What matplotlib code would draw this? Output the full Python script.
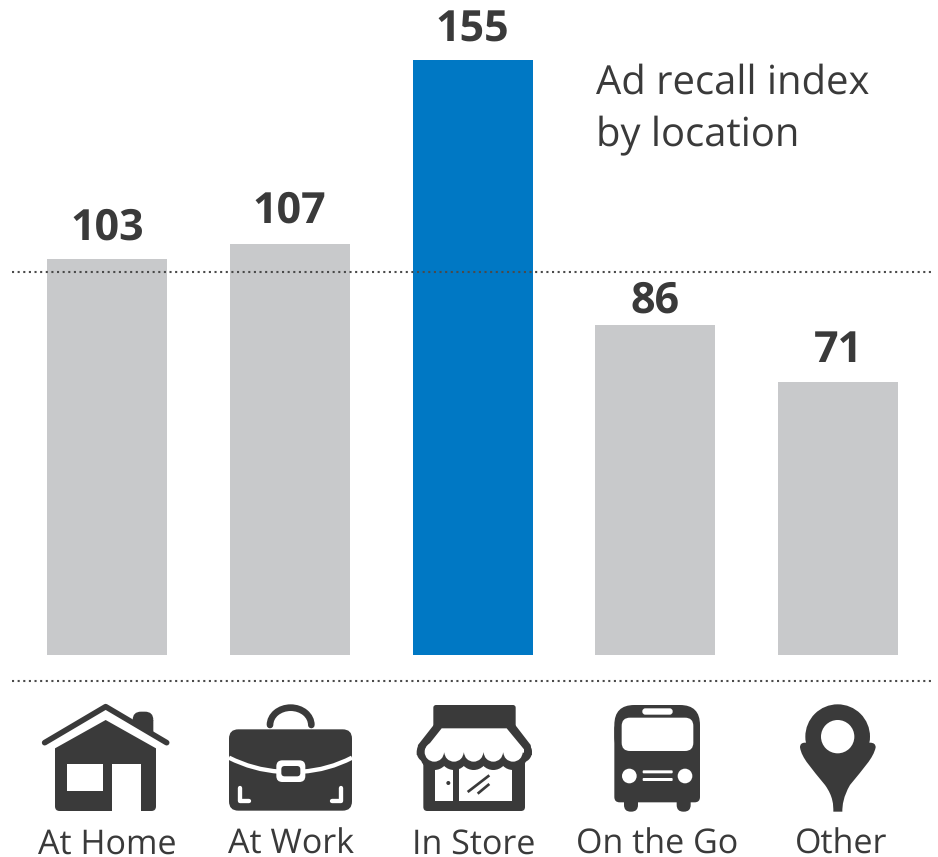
import numpy as np
import matplotlib
matplotlib.use("Agg")
import matplotlib.pyplot as plt
from matplotlib.patches import Circle, FancyBboxPatch, PathPatch, Polygon, Arc
from matplotlib.path import Path
from matplotlib.transforms import ScaledTranslation

categories = ["At Home", "At Work", "In Store", "On the Go", "Other"]
values = [103, 107, 155, 86, 71]
reference_index = 100

GRAY, BLUE, INK = "#C8C9CB", "#0078C4", "#3A3A3A"
W, H = 938, 857
plt.rcParams["font.family"] = ["Open Sans", "DejaVu Sans"]
plt.rcParams["text.hinting"] = "no_hinting"
plt.rcParams["text.hinting_factor"] = 1

fig = plt.figure(figsize=(W / 100, H / 100), dpi=100, facecolor="white")
PX_PER_UNIT = 3.84
BASE = 655
AX_BOTTOM = 681
SPACING = 182.75
FIRST = 107
ax = fig.add_axes([0, 1 - AX_BOTTOM / H, 1, AX_BOTTOM / H])
ax.set_xlim(-FIRST / SPACING, (W - FIRST) / SPACING)
ax.set_ylim(-(AX_BOTTOM - BASE) / PX_PER_UNIT, BASE / PX_PER_UNIT)
x = np.arange(len(categories))
colors = [BLUE if c == "In Store" else GRAY for c in categories]
ax.bar(x, values, width=120 / SPACING, color=colors, zorder=2)

# dotted reference lines
x0, x1 = (12 - FIRST) / SPACING, (932 - FIRST) / SPACING
dot = dict(color="#4A4A4A", lw=1.5, linestyle=(0, (1, 1.7)), zorder=3, dash_capstyle="butt")
shift = ScaledTranslation(0, -0.01, fig.dpi_scale_trans)
ax.plot([x0, x1], [reference_index, reference_index], transform=ax.transData + shift, **dot)
ax.plot([x0, x1], [ax.get_ylim()[0] + 0.1] * 2, clip_on=False, **dot)

for s in ax.spines.values():
    s.set_visible(False)
ax.set_yticks([])
ax.set_xticks(x, categories)
ax.tick_params(axis="x", length=0, pad=105.5, labelsize=24.6, labelcolor=INK)
label_dx = [0, 1, 1, 2, 3]
for lab, dx in zip(ax.get_xticklabels(), label_dx):
    lab.set_transform(lab.get_transform() + ScaledTranslation(dx / 100, 0, fig.dpi_scale_trans))

val_off = [19.5, 22, 18.5, 12, 20.5]
val_dx = [0, 0, 0, 0, 0]
for xi, v, oy, dx in zip(x, values, val_off, val_dx):
    ax.annotate(str(v), (xi, v), xytext=(dx * .72, oy * .72), textcoords="offset points",
                ha="center", va="baseline", fontsize=30.7, fontweight="bold", color=INK)

fig.text(596 / W, 1 - 94 / H, "Ad recall index", fontsize=29.1, color=INK, va="baseline")
fig.text(596 / W, 1 - 146 / H, "by location", fontsize=29.1, color=INK, va="baseline")

# pictograms, drawn in pixel space
ov = fig.add_axes([0, 0, 1, 1], facecolor="none", zorder=5)
ov.set_xlim(0, W)
ov.set_ylim(H, 0)
ov.axis("off")


def mk(ox, oy):
    return lambda pts: [(ox + a / 3, oy + b / 3) for a, b in pts]


def poly(z, pts, c=INK, **k):
    ov.add_patch(Polygon(z(pts), closed=True, fc=c, ec="none", **k))


def rrect(z, a, b, c_, d, r, c=INK):
    (p, q), (s, t) = z([(a, b), (c_, d)])
    r = r / 3
    ov.add_patch(FancyBboxPatch((p + r, q + r), s - p - 2 * r, t - q - 2 * r,
                                boxstyle=f"round,pad={r},rounding_size={r}", fc=c, ec="none"))


def stroke(z, pts, lw, c=INK, cap="round", join="round"):
    xy = np.array(z(pts))
    ov.plot(xy[:, 0], xy[:, 1], color=c, lw=lw * 0.72 / 3, solid_capstyle=cap, solid_joinstyle=join)


def circ(z, a, b, r, c=INK):
    ov.add_patch(Circle(z([(a, b)])[0], r / 3, fc=c, ec="none"))


def curve(z, pts, lw, c):
    verts = z(pts)
    codes = [Path.MOVETO] + [Path.CURVE3] * (len(verts) - 1)
    ov.add_patch(PathPatch(Path(verts, codes), fc="none", ec=c, lw=lw * 0.72 / 3, capstyle="butt"))


# house
z = mk(20, 690)
rrect(z, 338, 65, 400, 110, 25)
poly(z, [(338, 90), (400, 90), (400, 134), (338, 98)])
stroke(z, [(74, 158), (257, 50), (440, 158)], 17)
poly(z, [(105, 175), (257, 90), (408, 175), (408, 340), (105, 340)])
rrect(z, 105, 300, 408, 363, 14)
poly(z, [(142, 222), (250, 222), (250, 302), (142, 302)], "white")
poly(z, [(277, 222), (362, 222), (362, 364), (277, 364)], "white")

# briefcase
ov.add_patch(Arc(z([(812, 105)])[0], 2 * 62 / 3, 2 * 52 / 3, theta1=180, theta2=360, ec=INK, lw=20 * .72 / 3, capstyle="round"))
rrect(z, 627, 118, 996, 362, 28)
curve(z, [(627, 203), (700, 240), (780, 245)], 13, "white")
curve(z, [(996, 203), (925, 240), (845, 245)], 13, "white")
rrect(z, 769, 211, 856, 276, 18, "white")
rrect(z, 784, 228, 841, 259, 10)
stroke(z, [(659, 293), (659, 333), (688, 333)], 13, "white")
stroke(z, [(964, 293), (964, 333), (936, 333)], 13, "white")

# store
z = mk(400, 690)
rrect(z, 100, 45, 347, 125, 8)
poly(z, [(105, 100), (342, 100), (392, 165), (396, 195), (50, 195), (54, 165)])
rrect(z, 70, 190, 375, 363, 12)
poly(z, [(105, 225), (160, 225), (160, 333), (105, 333)], "white")
poly(z, [(178, 225), (335, 225), (335, 333), (178, 333)], "white")
for cx in (103, 162, 221, 280, 339):
    circ(z, cx, 198, 42)
circ(z, 82, 186, 32)
circ(z, 364, 186, 32)
poly(z, [(125, 115), (320, 115), (372, 178), (372, 188), (75, 188), (75, 178)], "white")
for cx in (103, 162, 221, 280, 339):
    circ(z, cx, 186, 29, "white")
circ(z, 145, 279, 6)
stroke(z, [(203, 306), (268, 256)], 8, cap="butt")
stroke(z, [(233, 311), (268, 282)], 8, cap="butt")

# bus
rrect(z, 672, 280, 714, 365, 20)
rrect(z, 830, 280, 872, 365, 20)
rrect(z, 643, 45, 900, 200, 60)
rrect(z, 643, 100, 900, 337, 16)
rrect(z, 727, 55, 818, 74, 9, "white")
rrect(z, 665, 83, 880, 183, 25, "white")
circ(z, 688, 258, 22, "white")
circ(z, 855, 258, 22, "white")
rrect(z, 728, 241, 818, 250, 3, "white")
rrect(z, 728, 264, 818, 273, 3, "white")

# pin
z = mk(770, 690)
circ(z, 203, 140, 97)
verts = z([(105, 158), (90, 158), (90, 172), (95, 205), (125, 235), (165, 285), (190, 320),
           (190, 345), (190, 365), (203, 365), (217, 365), (217, 345), (220, 320), (240, 285),
           (280, 235), (310, 205), (317, 172), (317, 158), (300, 158), (105, 158)])
codes = [1, 3, 3, 4, 4, 4, 4, 4, 4, 3, 3, 4, 4, 4, 4, 4, 4, 3, 3, 2]
ov.add_patch(PathPatch(Path(verts, codes), fc=INK, ec="none"))
circ(z, 203, 140, 50, "white")

fig.savefig("out.png", dpi=100)
